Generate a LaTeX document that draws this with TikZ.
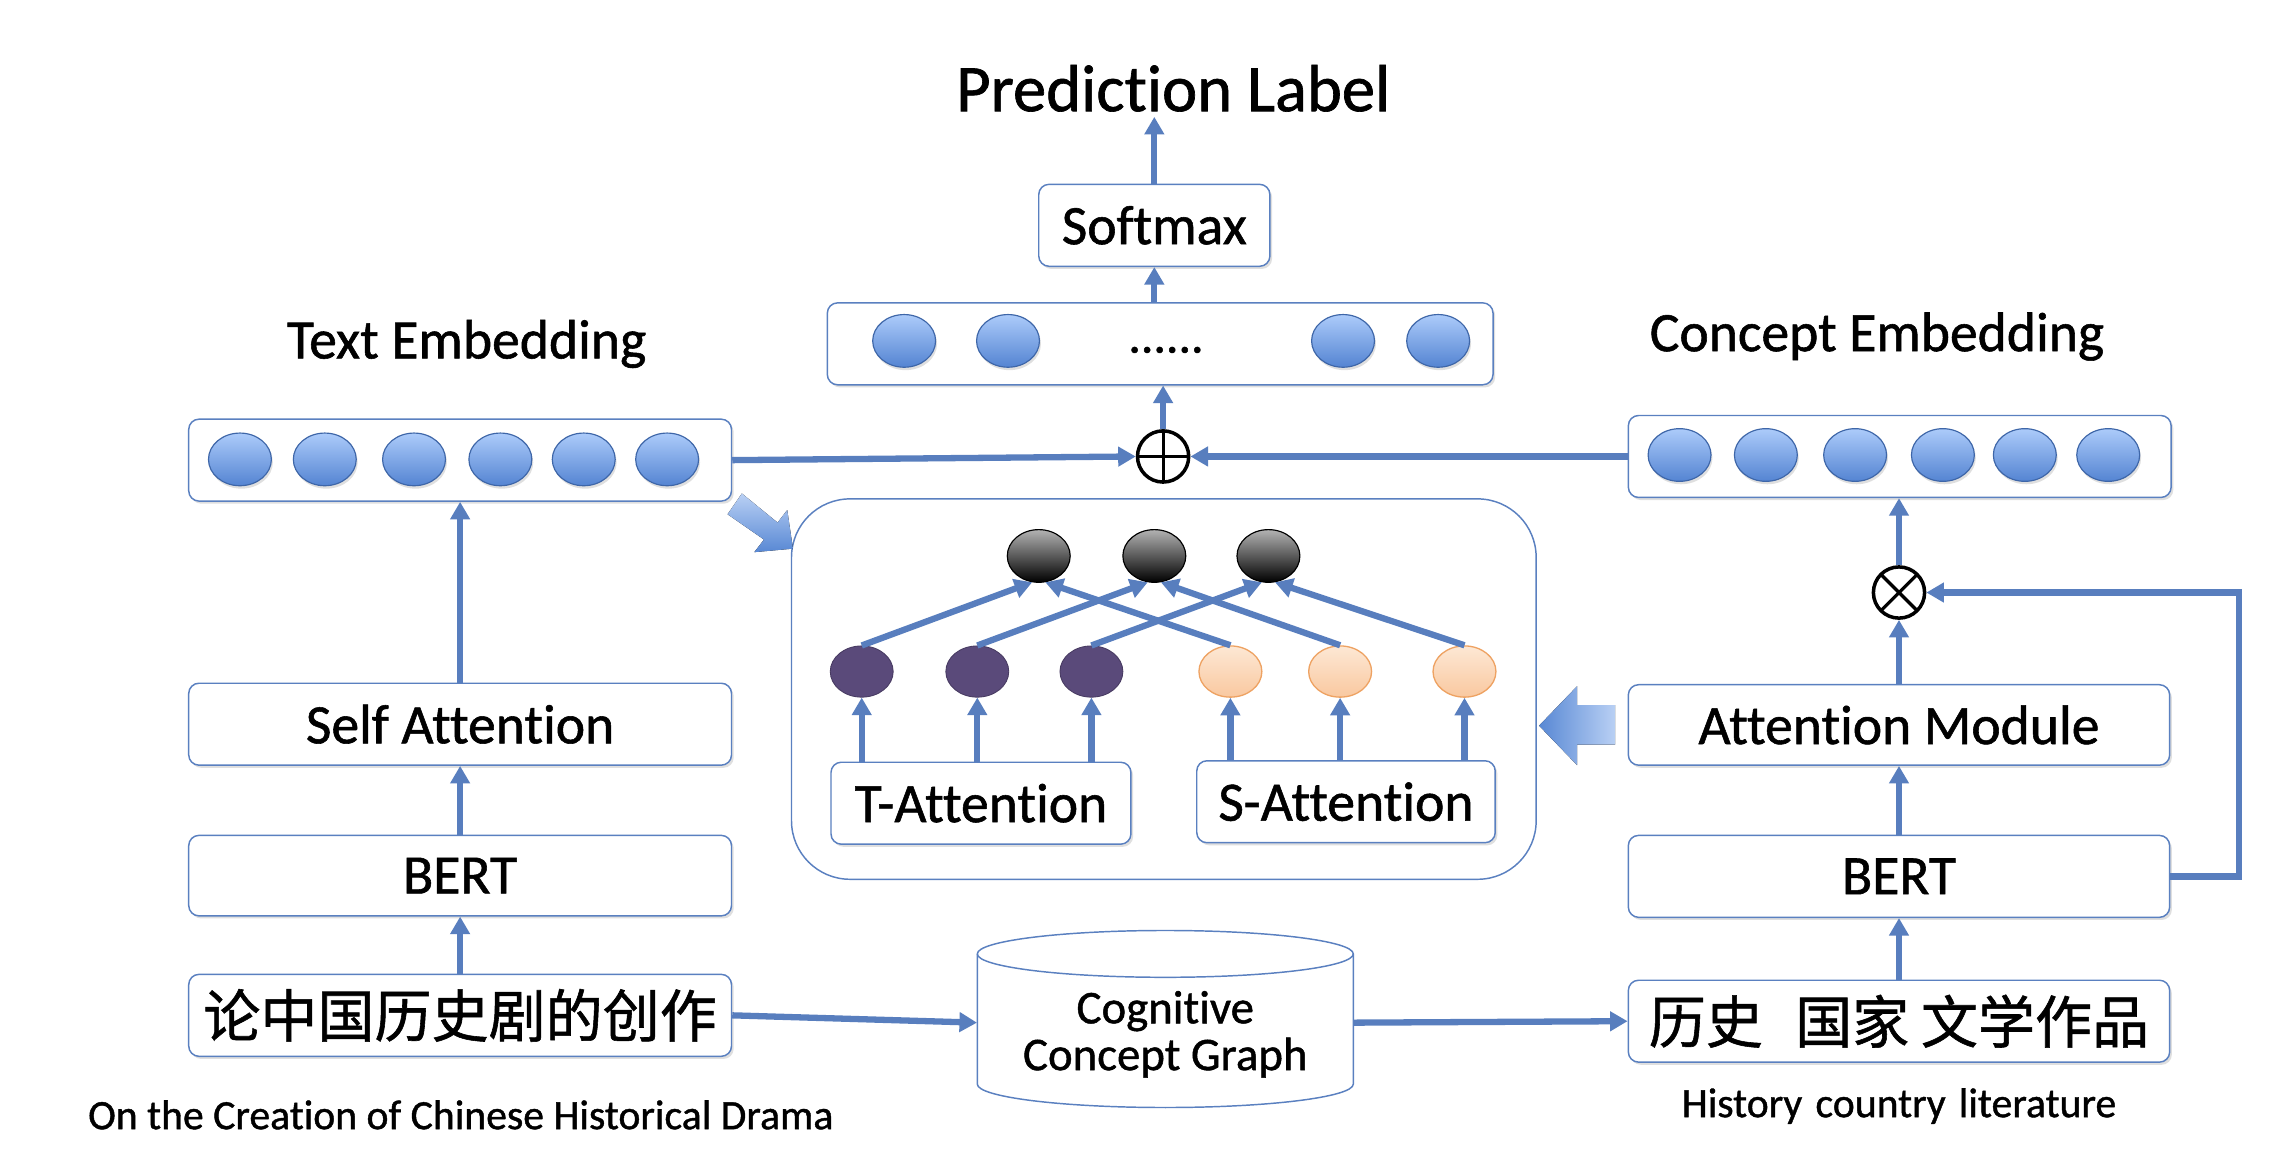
\documentclass[tikz,border=0pt]{standalone}
\usepackage{fontspec}
\setmainfont{Carlito}[Ligatures=CommonOff,Contextuals=NoAlternate,RawFeature={-clig},UprightFeatures={FakeBold=1.0}]
\newfontfamily\cjk{Noto Sans CJK SC}[FakeBold=1.0]
\usetikzlibrary{arrows.meta,shapes.geometric,shadows,calc}
\definecolor{lineblue}{RGB}{88,126,190}
\definecolor{boxblue}{RGB}{90,128,192}
\definecolor{ballhi}{RGB}{172,203,250}
\definecolor{balllo}{RGB}{84,132,210}
\definecolor{ballrim}{RGB}{62,102,168}
\definecolor{tpurple}{RGB}{90,74,122}
\definecolor{sorangehi}{RGB}{253,232,212}
\definecolor{sorangelo}{RGB}{249,200,160}
\definecolor{sorangerim}{RGB}{238,162,98}
\definecolor{blkhi}{RGB}{185,208,244}
\definecolor{blklo}{RGB}{88,136,212}
\newcommand\szbox{\fontsize{38}{44}\selectfont}
\newcommand\szcap{\fontsize{28.5}{32}\selectfont}
\begin{document}
\begin{tikzpicture}[x=1pt,y=-1pt,
  box/.style={draw=boxblue, line width=1pt, rounded corners=7pt, fill=white, inner sep=0pt,
    drop shadow={shadow xshift=1.5pt,shadow yshift=-1.8pt,opacity=0.25,fill=gray},
    font=\szbox},
  ball/.style={ellipse, inner sep=0pt, minimum width=43pt, minimum height=36pt, draw=ballrim, line width=0.8pt,
    top color=ballhi, bottom color=balllo,
    drop shadow={shadow xshift=1pt,shadow yshift=-2pt,opacity=0.25,fill=gray}},
  gball/.style={ellipse, inner sep=0pt, minimum width=43pt, minimum height=36pt, draw=black, line width=0.8pt,
    top color=black!30, bottom color=black},
  pball/.style={ellipse, inner sep=0pt, minimum width=43pt, minimum height=35pt, draw=tpurple!80!black, line width=0.6pt, fill=tpurple},
  oball/.style={ellipse, inner sep=0pt, minimum width=43pt, minimum height=35pt, draw=sorangerim, line width=0.9pt,
    top color=sorangehi, bottom color=sorangelo},
  conn/.style={draw=lineblue, line width=4.3pt, -{Triangle[length=12pt,width=13pt]}},
  opsym/.style={circle, draw=black, line width=2.4pt, fill=white, minimum size=35pt, inner sep=0pt},
  lbl/.style={font=\szbox, anchor=base},
]
\useasboundingbox (0,0) rectangle (1568,801);
\fill[white] (0,0) rectangle (1568,801);

% ---------- top part ----------
\node[lbl, font=\fontsize{45.5}{50}\selectfont] (pl) at (802,76) {Prediction Label};
\node[box, minimum width=158pt, minimum height=56pt] (sm) at (789,154) {Softmax};
\node[box, minimum width=455pt, minimum height=56pt] (ob) at (793,235) {};
\node[ball] (ob1) at (618,233) {};
\node[ball] (ob2) at (689,233) {};
\node[ball] (ob3) at (918,233) {};
\node[ball] (ob4) at (983,233) {};
\node[font=\fontsize{34}{40}\selectfont, anchor=base] (dots) at (797,241) {......};
\node[opsym, path picture={\draw[line width=2.2pt] (path picture bounding box.north) -- (path picture bounding box.south)
   (path picture bounding box.west) -- (path picture bounding box.east);}] (op) at (795,312) {};

\draw[conn] (sm.north) -- (sm.north |- pl.south);
\draw[conn] (ob.north -| sm) -- (sm.south);
\draw[conn] (op.north) -- (op.north |- ob.south);

% ---------- embeddings ----------
\node[lbl] (tel) at (319,245) {Text Embedding};
\node[lbl] (cel) at (1283,240) {Concept Embedding};
\node[box, minimum width=371pt, minimum height=56pt] (te) at (314.5,314.5) {};
\foreach \x [count=\i] in {164,222,283,342,399,456} {\node[ball] (te\i) at (\x,314) {};}
\node[box, minimum width=371pt, minimum height=56pt] (ce) at (1298.5,312) {};
\foreach \x [count=\i] in {1148,1207,1268,1328,1384,1441} {\node[ball] (ce\i) at (\x,311) {};}
\draw[conn] (te.east) -- (op.west);
\draw[conn] (ce.west) -- (op.east);

% ---------- central block ----------
\node[draw=boxblue, line width=1pt, rounded corners=40pt, minimum width=509pt, minimum height=260pt, inner sep=0pt] (cb) at (795.5,471) {};
\node[gball] (g1) at (710,380) {};
\node[gball] (g2) at (789,380) {};
\node[gball] (g3) at (867,380) {};
\node[pball] (p1) at (589,459) {};
\node[pball] (p2) at (668,459) {};
\node[pball] (p3) at (746,459) {};
\node[oball] (o1) at (841,459) {};
\node[oball] (o2) at (916,459) {};
\node[oball] (o3) at (1001,459) {};
\node[box, minimum width=205pt, minimum height=56pt] (tb) at (670.5,549) {T-Attention};
\node[box, minimum width=204pt, minimum height=56pt] (sb) at (920,548) {S-Attention};
\foreach \c in {p1,p2,p3} {\draw[conn] (tb.north -| \c) -- (\c.south);}
\foreach \c in {o1,o2,o3} {\draw[conn] (sb.north -| \c) -- (\c.south);}
\foreach \i in {1,2,3} {
  \draw[conn] (p\i.north) -- (g\i.-104);
  \draw[conn] (o\i.north) -- (g\i.-76);
}

% block arrows
\fill[top color=blkhi, bottom color=blklo] (497.3,351.5) -- (507.1,337.3) -- (531.5,357.2) -- (538.1,348.6) -- (542,375) -- (515.6,377.4) -- (522.2,368.8) -- cycle;
\fill[left color=blklo, right color=blkhi] (1104,482) -- (1078,482) -- (1078,469) -- (1052,496) -- (1078,523) -- (1078,509) -- (1104,509) -- cycle;

% ---------- left column ----------
\node[box, minimum width=371pt, minimum height=56pt] (sa) at (314.5,495) {Self Attention};
\node[box, minimum width=371pt, minimum height=55pt] (bl) at (314.5,598.5) {BERT};
\node[box, minimum width=371pt, minimum height=56pt, font=\cjk\fontsize{39}{44}\selectfont] (lt) at (314.5,694) {论中国历史剧的创作};
\node[font=\szcap] (ltc) at (315,762) {On the Creation of Chinese Historical Drama};
\draw[conn] (lt.north) -- (bl.south);
\draw[conn] (bl.north) -- (sa.south);
\draw[conn] (sa.north) -- (te.south);

% ---------- cylinder ----------
\draw[boxblue, line width=1pt, fill=white] (668,652) -- (668,741)
  arc[start angle=180, end angle=0, x radius=128.5, y radius=16] -- (925,652)
  arc[start angle=0, end angle=-180, x radius=128.5, y radius=16] -- cycle;
\draw[boxblue, line width=1pt] (668,652) arc[start angle=180, end angle=0, x radius=128.5, y radius=16];
\node[inner sep=0pt, minimum width=257pt, minimum height=100pt] (cyl) at (796.5,699) {};
\node[align=center, font=\fontsize{32}{32}\selectfont] (cgt) at (796.5,707) {Cognitive\\Concept Graph};

% ---------- right column ----------
\node[box, minimum width=370pt, minimum height=55pt] (am) at (1298,495.5) {Attention Module};
\node[box, minimum width=370pt, minimum height=56pt] (br) at (1298,599) {BERT};
\node[box, minimum width=370pt, minimum height=56pt, font=\cjk\fontsize{39}{44}\selectfont] (ht) at (1298,698) {历史\hspace{22pt}国家\hspace{8pt}文学作品};
\node[font=\szcap] (htc) at (1298,756) {History\hspace{9pt}country\hspace{9pt}literature};
\node[opsym, path picture={\draw[line width=2.2pt] (path picture bounding box.north west) -- (path picture bounding box.south east)
   (path picture bounding box.south west) -- (path picture bounding box.north east);}] (ot) at (1298,405) {};

\draw[conn] (lt.east) -- (cyl.west);
\draw[conn] (cyl.east) -- (ht.west);
\draw[conn] (ht.north) -- (br.south);
\draw[conn] (br.north) -- (am.south);
\draw[conn] (am.north) -- (ot.south);
\draw[conn] (ot.north) -- (ot.north |- ce.south);
\draw[conn] (br.east) -- ++(47,0) |- (ot.east);
\end{tikzpicture}
\end{document}
